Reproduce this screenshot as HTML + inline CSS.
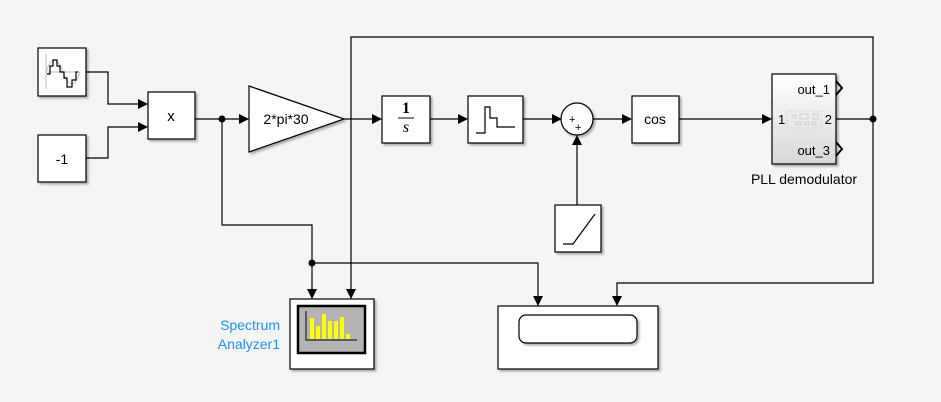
<!DOCTYPE html>
<html><head><style>html,body{margin:0;padding:0;background:#f5f5f5;overflow:hidden}svg{display:block}</style></head><body>
<svg width="941" height="402" viewBox="0 0 941 402" xmlns="http://www.w3.org/2000/svg" font-family="Liberation Sans, sans-serif">
<defs>
<filter id="sh" x="-10%" y="-10%" width="130%" height="130%"><feDropShadow dx="2" dy="2" stdDeviation="1" flood-color="#000" flood-opacity="0.3"/></filter>
<linearGradient id="pg" x1="0" y1="0" x2="0" y2="1"><stop offset="0" stop-color="#fff"/><stop offset="1" stop-color="#d8d8d8"/></linearGradient>
</defs>
<rect width="941" height="402" fill="#f5f5f5"/>
<g stroke="#000" stroke-width="1.2" fill="none">
<polyline points="86,72 108,72 108,104 138,104"/>
<polyline points="86,158 108,158 108,127 138,127"/>
<polyline points="195,119 239,119"/>
<polyline points="344,119 372,119"/>
<polyline points="430,119 458,119"/>
<polyline points="523,119 552,119"/>
<polyline points="593,119 622,119"/>
<polyline points="679,119 762,119"/>
<polyline points="577,205 577,145"/>
<polyline points="836,119 873,119"/>
<polyline points="222,119 222,225 312,225 312,289"/>
<polyline points="312,263 538,263 538,296"/>
<polyline points="351,289 351,37 873,37 873,283 617,283 617,296"/>
</g>
<g fill="#000">
<circle cx="222" cy="119" r="3.5"/><circle cx="873" cy="119" r="3.5"/><circle cx="312" cy="263" r="3.5"/>
<path d="M138,99 L148,104 L138,109Z"/><path d="M138,122 L148,127 L138,132Z"/>
<path d="M239,114 L249,119 L239,124Z"/><path d="M372,114 L382,119 L372,124Z"/>
<path d="M458,114 L468,119 L458,124Z"/><path d="M552,114 L562,119 L552,124Z"/>
<path d="M622,114 L632,119 L622,124Z"/><path d="M762,114 L772,119 L762,124Z"/>
<path d="M572,145 L577,135 L582,145Z"/>
<path d="M307,289 L312,299 L317,289Z"/><path d="M346,289 L351,299 L356,289Z"/>
<path d="M533,296 L538,306 L543,296Z"/><path d="M612,296 L617,306 L622,296Z"/>
</g>
<g stroke="#000" stroke-width="1.2" fill="#fff" filter="url(#sh)">
<rect x="38" y="48" width="48" height="48"/>
<rect x="38" y="135" width="48" height="47"/>
<rect x="148" y="92" width="47" height="47"/>
<path d="M249,86 L344,119 L249,152Z"/>
<rect x="382" y="96" width="48" height="47"/>
<rect x="468" y="96" width="55" height="47"/>
<circle cx="577" cy="119" r="16"/>
<rect x="555" y="205" width="46" height="47"/>
<rect x="632" y="96" width="47" height="47"/>
<rect x="772" y="74" width="64" height="90" fill="url(#pg)"/>
<rect x="290" y="299" width="84" height="70"/>
<rect x="498" y="306" width="160" height="63"/>
</g>
<line x1="46" y1="54" x2="46" y2="89" stroke="#bbb"/>
<line x1="46" y1="72" x2="80" y2="72" stroke="#bbb"/>
<path d="M46,72 Q54,48 63,72 T80,72" stroke="#bbb" fill="none"/>
<polyline points="47,74 50,74 50,66 53,66 53,60 57,60 57,66 60,66 60,72 64,72 64,78 67,78 67,87 72,87 72,80 76,80 76,72 78,72" fill="none" stroke="#000" stroke-width="1.2"/>
<g font-size="14" text-anchor="middle" fill="#000">
<text x="62" y="164">-1</text>
<text x="171" y="121" font-size="15">x</text>
<text x="286" y="124" font-size="14">2*pi*30</text>
<text x="655" y="124" font-size="14">cos</text>
</g>
<text x="406" y="113" font-family="Liberation Serif, serif" font-size="16" text-anchor="middle" font-weight="bold">1</text>
<line x1="398" y1="118" x2="414" y2="118" stroke="#000"/>
<text x="406" y="132" font-family="Liberation Serif, serif" font-size="16" font-style="italic" text-anchor="middle">s</text>
<polyline points="476,133 485,133 485,107 490,107 490,118 497,118 497,127 515,127" fill="none" stroke="#000" stroke-width="1.2"/>
<text x="569" y="123" font-size="11">+</text><text x="575" y="131" font-size="11">+</text>
<polyline points="563,244 573,244 595,214" fill="none" stroke="#000" stroke-width="1.2"/>
<text x="830" y="94" font-size="13" text-anchor="end">out_1</text>
<text x="830" y="155" font-size="13" text-anchor="end">out_3</text>
<text x="778" y="124" font-size="13">1</text>
<text x="832" y="124" font-size="13" text-anchor="end">2</text>
<g fill="none" stroke="#c8c8c8" stroke-width="0.8">
<rect x="787" y="111" width="34" height="17" stroke-dasharray="1,1"/>
<rect x="792" y="115" width="4" height="3"/><rect x="800" y="114" width="8" height="5"/><rect x="813" y="114" width="5" height="5"/>
<rect x="796" y="122" width="5" height="3"/><rect x="805" y="122" width="4" height="3"/><rect x="812" y="122" width="4" height="3"/>
</g>
<polyline points="836,81 842,88 836,95" fill="none" stroke="#000" stroke-width="2"/>
<polyline points="836,142 842,149 836,156" fill="none" stroke="#000" stroke-width="2"/>
<text x="804" y="184" font-size="14" text-anchor="middle">PLL demodulator</text>
<rect x="298" y="306" width="67" height="47" fill="#b4b4b4" stroke="#000" stroke-width="2.5"/>
<polyline points="306,311 306,340 357,340" fill="none" stroke="#000" stroke-width="1"/>
<g fill="#ffff00"><rect x="310" y="318" width="4" height="21"/><rect x="316" y="326" width="4" height="13"/><rect x="322" y="314" width="4" height="25"/><rect x="328" y="321" width="4" height="18"/><rect x="334" y="321" width="4" height="18"/><rect x="340" y="317" width="4" height="22"/><rect x="346" y="334" width="4" height="5"/></g>
<text x="280" y="330" font-size="14" fill="#1e90ff" text-anchor="end">Spectrum</text>
<text x="280" y="349" font-size="14" fill="#1e90ff" text-anchor="end">Analyzer1</text>
<rect x="519" y="315" width="118" height="28" rx="7" fill="#fff" stroke="#000" stroke-width="1.2" filter="url(#sh)"/>
</svg>
</body></html>
